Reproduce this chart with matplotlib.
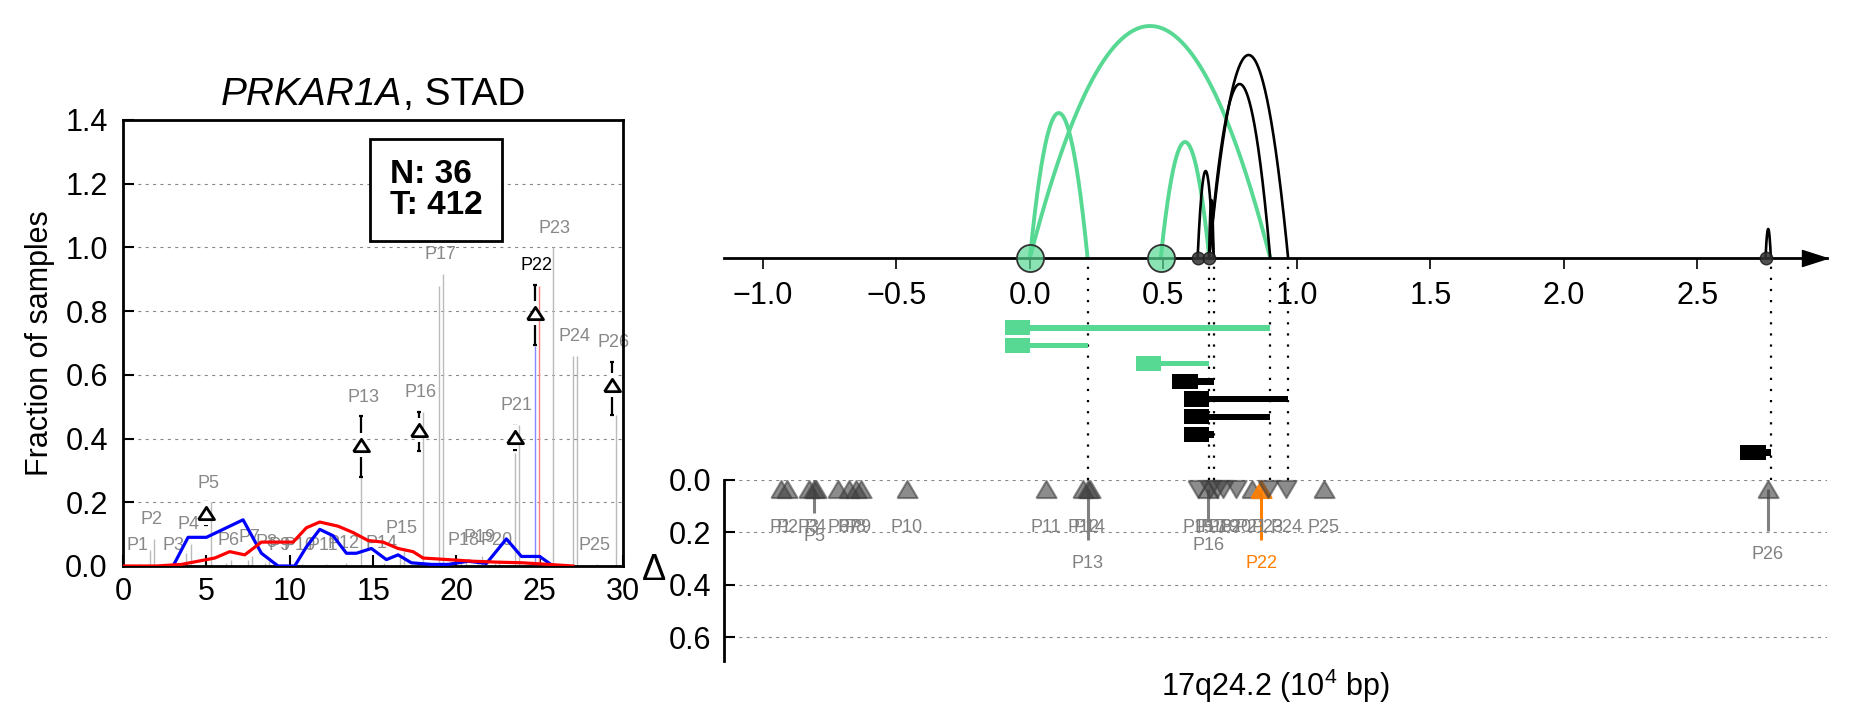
import matplotlib
matplotlib.use("Agg")
import matplotlib.pyplot as plt
import numpy as np
from matplotlib.offsetbox import AnchoredOffsetbox, HPacker, TextArea

plt.rcParams["font.family"] = ["Liberation Sans", "DejaVu Sans"]
plt.rcParams["mathtext.fontset"] = "custom"
plt.rcParams["mathtext.rm"] = "Liberation Sans"
plt.rcParams["mathtext.it"] = "Liberation Sans:italic"
plt.rcParams["mathtext.bf"] = "Liberation Sans:bold"

GREEN = "#57d893"
GREY_LINE = "#bbbbbb"
LABEL_GREY = "#888888"
ORANGE = "#ff7f00"
GRID_STYLE = dict(color="#888888", lw=0.8, linestyle=(0, (2.75, 3.9)))

# ---------------- left panel data ----------------
gene, cohort = "PRKAR1A", "STAD"
n_normal, n_tumor = 36, 412
peak_names = [f"P{i}" for i in range(1, 27)]
peak_pos = [0.75, 1.6, 2.9, 3.8, 5.0, 6.2, 7.5, 8.5, 9.3, 10.5, 11.9, 13.1, 14.3,
            15.4, 16.6, 17.75, 18.95, 20.3, 21.3, 22.3, 23.5, 24.72, 25.8, 27.0,
            28.2, 29.35]
line_a = [0.0, 0.05, 0.0, 0.04, 0.0, 0.01, 0.02, 0.01, 0.0, 0.0, 0.0, 0.0, 0.28,
          0.0, 0.03, 0.0, 0.88, 0.01, 0.02, 0.01, 0.355, 0.69, 1.0, 0.66, 0.0, 0.0]
line_b = [0.005, 0.085, 0.005, 0.07, 0.2, 0.02, 0.03, 0.015, 0.005, 0.005, 0.005,
          0.01, 0.0, 0.01, 0.058, 0.484, 0.917, 0.02, 0.03, 0.02, 0.443, 0.88, 0.0,
          0.66, 0.005, 0.475]
marked = ["P5", "P13", "P16", "P21", "P22", "P26"]
mark_val = [0.166, 0.38, 0.427, 0.406, 0.794, 0.568]
mark_lo = [0.13, 0.28, 0.362, 0.364, 0.694, 0.475]
mark_hi = [0.20, 0.47, 0.484, 0.44, 0.882, 0.64]
highlight = "P22"

normal_x = [3.0, 3.9, 5.0, 6.0, 7.2, 8.3, 9.3, 10.3, 11.0, 11.8, 12.6, 13.4, 14.0,
            14.9, 15.8, 16.5, 17.3, 18.5, 19.5, 20.7, 21.8, 23.0, 23.9, 25.0, 25.8]
normal_y = [0.0, 0.09, 0.09, 0.115, 0.145, 0.04, 0.0, 0.0, 0.06, 0.115, 0.095, 0.04,
            0.04, 0.055, 0.02, 0.035, 0.01, 0.005, 0.005, 0.015, 0.008, 0.085, 0.03,
            0.03, 0.0]
tumor_x = [0.0, 2.0, 3.5, 4.5, 5.5, 6.4, 7.3, 8.3, 9.3, 10.2, 11.0, 11.8, 12.9, 13.8,
           14.7, 15.6, 16.5, 17.4, 18.0, 19.5, 21.0, 22.5, 24.0, 25.5, 27.0]
tumor_y = [0.0, 0.0, 0.005, 0.015, 0.025, 0.045, 0.035, 0.075, 0.075, 0.075, 0.12,
           0.138, 0.125, 0.105, 0.08, 0.075, 0.055, 0.045, 0.025, 0.02, 0.015, 0.012,
           0.01, 0.005, 0.0]

# ---------------- right panel data ----------------
event_start = [0.0, 0.0, 0.49, 0.628, 0.671, 0.671, 0.671, 2.755]
event_end = [0.90, 0.216, 0.672, 0.688, 0.967, 0.90, 0.688, 2.775]
event_height = [8, 5, 4, 3, 7, 6, 2, 1]
event_green = [True, True, True, False, False, False, False, False]

locus_pos = [-0.934, -0.908, -0.829, -0.803, -0.807, -0.717, -0.679, -0.653, -0.634,
             -0.462, 0.060, 0.200, 0.216, 0.225, 0.630, 0.668, 0.675, 0.700, 0.725,
             0.770, 0.830, 0.866, 0.890, 0.960, 1.100, 2.763]
locus_up = [1] * 14 + [0, 1, 0, 0, 0, 0, 1, 1, 0, 0, 1, 1]
label_level = [0, 0, 0, 0, 1, 0, 0, 0, 0, 0, 0, 0, 4, 0, 0, 2, 0, 0, 0, 0, 0, 4, 0,
               0, 0, 3]

XLIM = (-1.146, 2.985)
BLOCK_W = 0.094
TRI = [(-1, -0.77), (1, -0.77), (0, 0.77), (-1, -0.77)]
TRI_UP = [(-1, -0.85), (1, -0.85), (0, 0.85), (-1, -0.85)]
TRI_DOWN = [(-1, 0.85), (1, 0.85), (0, -0.85), (-1, 0.85)]
ARROW = [(0, 0), (-1, 0.32), (-1, -0.32), (0, 0)]

fig = plt.figure(figsize=(18.51, 7.18), dpi=100)

# ================= left panel =================
ax = fig.add_axes([0.0665, 0.2117, 0.2701, 0.6212])
ax.set_xlim(0, 30)
ax.set_ylim(0, 1.4)
ax.set_xticks(np.arange(0, 31, 5))
ax.set_yticks(np.arange(0, 1.41, 0.2))
ax.yaxis.set_major_formatter(matplotlib.ticker.FormatStrFormatter("%.1f"))
ax.tick_params(axis="both", direction="in", length=8, width=1.5, labelsize=22)
ax.tick_params(axis="y", pad=11)
ax.tick_params(axis="x", pad=8)
for sp in ax.spines.values():
    sp.set_linewidth(2)
ax.grid(axis="y", **GRID_STYLE)
ax.set_axisbelow(True)

for name, x, a, b in zip(peak_names, peak_pos, line_a, line_b):
    if name == highlight:
        ca, cb = "#8888ff", "#ff8080"
    else:
        ca = cb = GREY_LINE
    if a > 0:
        ax.vlines(x, 0, a, color=ca, lw=1.0, zorder=1)
    if b > 0:
        ax.vlines(x + 0.25, 0, b, color=cb, lw=1.0, zorder=1)
    top = max(a, b)
    if name in marked:
        top = max(top, mark_hi[marked.index(name)])
    ax.text(x + 0.1, top + 0.06, name, ha="center", va="center", fontsize=13,
            color="black" if name == highlight else LABEL_GREY, zorder=2)

ax.plot(normal_x, normal_y, color="blue", lw=2.3, zorder=3)
ax.plot(tumor_x, tumor_y, color="red", lw=2.3, zorder=3)

for name, v, lo, hi in zip(marked, mark_val, mark_lo, mark_hi):
    x = peak_pos[peak_names.index(name)]
    ax.errorbar(x, v, yerr=[[v - lo], [hi - v]], fmt="none", ecolor="black",
                elinewidth=1.6, capsize=1.6, capthick=1.6, zorder=4)
    ax.plot(x, v, marker="|", ms=17, mew=4, color="white", zorder=5)
    ax.plot(x, v, marker=TRI, ms=11.5, mfc="white", mec="black", mew=2.0, zorder=6)

ax.text(16.0, 1.18, f"N: {n_normal}\nT: {n_tumor}", fontsize=24, fontweight="bold",
        ha="left", va="center", linespacing=1.0, zorder=7,
        bbox=dict(boxstyle="square,pad=0.6", fc="white", ec="black", lw=2))

title_box = HPacker(children=[
    TextArea(gene, textprops=dict(fontsize=28, fontstyle="italic")),
    TextArea(f", {cohort}", textprops=dict(fontsize=28))],
    align="baseline", pad=0, sep=0)
ax.add_artist(AnchoredOffsetbox(loc="lower center", child=title_box, pad=0,
                                borderpad=0.5, frameon=False,
                                bbox_to_anchor=(0.5, 1.0),
                                bbox_transform=ax.transAxes))
ax.set_ylabel("Fraction of samples", fontsize=22, labelpad=7)

# ================= right: arcs =================
ax_top = fig.add_axes([0.3911, 0.3315, 0.5959, 0.6685])
ax_top.set_xlim(*XLIM)
ax_top.set_ylim(-7.655, 8.897)
ax_top.patch.set_visible(False)
for side in ("left", "right", "top"):
    ax_top.spines[side].set_visible(False)
ax_top.spines["bottom"].set_position(("data", 0))
ax_top.spines["bottom"].set_linewidth(2)
ax_top.set_yticks([])
ax_top.set_xticks(np.arange(-1.0, 2.51, 0.5))
ax_top.tick_params(axis="x", direction="out", length=8, width=1.2, pad=8.5,
                   labelsize=22)
ax_top.plot(1, 0, marker=ARROW, ms=36, color="black",
            transform=ax_top.get_yaxis_transform(), clip_on=False)

t = np.linspace(0, 1, 200)
for green in (True, False):
    for s, e, h, g in zip(event_start, event_end, event_height, event_green):
        if g != green:
            continue
        ax_top.plot(s + (e - s) * t, 4 * h * t * (1 - t),
                    color=GREEN if g else "black", lw=2.8 if g else 1.9,
                    zorder=2 if g else 3, solid_capstyle="butt")

ends = sorted(set(event_end))
ax_top.vlines(ends, ax_top.get_ylim()[0], 0, colors="black", lw=1.6,
              linestyles=[(0, (1, 4))], zorder=1)

green_starts = sorted({s for s, g in zip(event_start, event_green) if g})
black_starts = sorted({s for s, g in zip(event_start, event_green) if not g})
ax_top.plot(green_starts, [0] * len(green_starts), "o", ms=19.5,
            mfc=matplotlib.colors.to_rgba(GREEN, 0.7), mec="#333333", mew=1.3,
            clip_on=False, zorder=5)
ax_top.plot(black_starts, [0] * len(black_starts), "o", ms=9,
            mfc=(0.2, 0.2, 0.2, 0.85), mec=(0.1, 0.1, 0.1, 0.85), mew=1,
            clip_on=False, zorder=5)

# ================= right: event bars =================
ax_bar = fig.add_axes([0.3911, 0.3575, 0.5959, 0.1983])
ax_bar.set_xlim(*XLIM)
ax_bar.set_ylim(8.5, 0.5)
ax_bar.axis("off")
for row, (s, e, g) in enumerate(zip(event_start, event_end, event_green), start=1):
    col = GREEN if g else "black"
    ax_bar.barh(row, BLOCK_W, left=s - BLOCK_W, height=0.86, color=col, lw=0)
    ax_bar.barh(row, e - s, left=s, height=0.3 if g else 0.37, color=col, lw=0)

# ================= right: delta panel =================
ax_bot = fig.add_axes([0.3911, 0.0794, 0.5959, 0.2521])
ax_bot.set_xlim(*XLIM)
ax_bot.set_ylim(0.69, 0)
for side in ("right", "top", "bottom"):
    ax_bot.spines[side].set_visible(False)
ax_bot.spines["left"].set_linewidth(2)
ax_bot.set_yticks([0.0, 0.2, 0.4, 0.6])
ax_bot.yaxis.set_major_formatter(matplotlib.ticker.FormatStrFormatter("%.1f"))
ax_bot.tick_params(axis="y", direction="in", length=8, width=1.5, pad=9,
                   labelsize=22)
ax_bot.tick_params(axis="x", bottom=False, labelbottom=False)
ax_bot.grid(axis="y", **GRID_STYLE)
ax_bot.set_axisbelow(True)

TRI_Y = 0.036
for name, x, up, lev in zip(peak_names, locus_pos, locus_up, label_level):
    col = ORANGE if name == highlight else "#404040"
    lab_y = 0.183 + 0.0335 * lev
    if lev > 0:
        ax_bot.plot([x, x], [TRI_Y, lab_y - 0.09], color=ORANGE if name == highlight
                    else "#808080", lw=2.2, zorder=3, solid_capstyle="butt")
    ax_bot.plot(x, TRI_Y, marker=TRI_UP if up else TRI_DOWN, ms=14.5, mfc=col,
                mec=col, mew=1.5, alpha=0.9 if name == highlight else 0.6,
                clip_on=False, zorder=4)
    ax_bot.text(x, lab_y, name, ha="center", va="center", fontsize=13,
                color=ORANGE if name == highlight else "#808080", zorder=5)

ax_bot.set_ylabel("Δ", fontsize=26, rotation=0, ha="right", va="center", labelpad=2)
ax_bot.set_xlabel("17q24.2 (10$^4$ bp)", fontsize=22, labelpad=4)

fig.savefig("out.png", dpi=100, facecolor="white")
